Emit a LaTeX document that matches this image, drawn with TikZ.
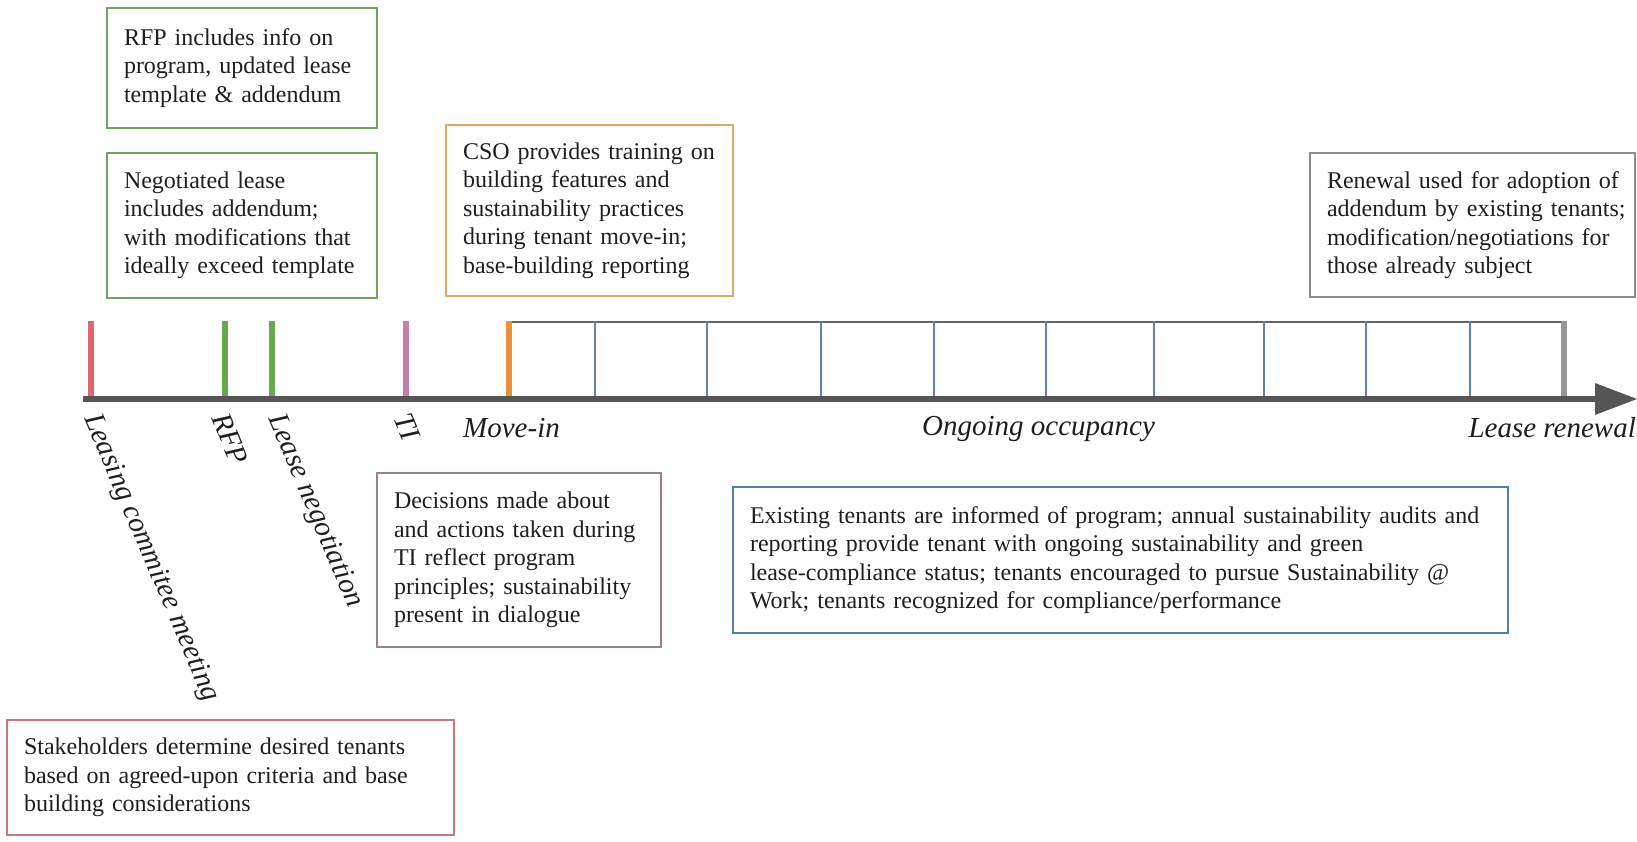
\documentclass[tikz,border=0pt]{standalone}
\usepackage{fontspec}
\setmainfont{Liberation Serif}
\definecolor{axisc}{RGB}{85,85,85}
\definecolor{redt}{RGB}{221,102,112}
\definecolor{redb}{RGB}{196,120,128}
\definecolor{greent}{RGB}{106,168,79}
\definecolor{greenb}{RGB}{112,162,96}
\definecolor{mauvet}{RGB}{196,128,168}
\definecolor{mauveb}{RGB}{160,124,144}
\definecolor{oranget}{RGB}{232,146,58}
\definecolor{orangeb}{RGB}{222,172,96}
\definecolor{grayt}{RGB}{150,150,150}
\definecolor{grayb}{RGB}{140,140,140}
\definecolor{bluet}{RGB}{92,132,172}
\definecolor{blueb}{RGB}{82,128,168}
\definecolor{linec}{RGB}{100,100,100}
\definecolor{txt}{RGB}{30,30,30}
\begin{document}
\begin{tikzpicture}[x=1pt,y=-1pt,
  box/.style={draw, line width=1.3pt, inner xsep=17pt, inner ysep=0pt, outer sep=0pt,
    anchor=north west, align=left, font=\fontsize{24}{28.5}\selectfont, text=txt},
  lab/.style={font=\fontsize{29}{32}\selectfont\itshape, inner sep=0pt, text=txt},
  bigtick/.style={line width=5.5pt},
  smalltick/.style={line width=1.2pt, draw=bluet},
]
\useasboundingbox (0,0) rectangle (1637,842);

% boxes
\node[box, draw=greenb, text width=236pt, minimum height=120pt] (rfpbox) at (107,8)
  {\mbox{RFP includes info on}\\\mbox{program, updated lease}\\\mbox{template \& addendum}};
\node[box, draw=greenb, text width=236pt, minimum height=145pt] (negbox) at (107,153)
  {\mbox{Negotiated lease}\\\mbox{includes addendum;}\\\mbox{with modifications that}\\\mbox{ideally exceed template}};
\node[box, draw=orangeb, text width=253pt, minimum height=171pt] (csobox) at (446,125)
  {\mbox{CSO provides training on}\\\mbox{building features and}\\\mbox{sustainability practices}\\\mbox{during tenant move-in;}\\\mbox{base-building reporting}};
\node[box, draw=grayb, text width=291pt, minimum height=144pt] (renbox) at (1310,153)
  {\mbox{Renewal used for adoption of}\\\mbox{addendum by existing tenants;}\\\mbox{modification/negotiations for}\\\mbox{those already subject}};
\node[box, draw=mauveb, text width=250pt, minimum height=174pt] (tibox) at (377,473)
  {\mbox{Decisions made about}\\\mbox{and actions taken during}\\\mbox{TI reflect program}\\\mbox{principles; sustainability}\\\mbox{present in dialogue}};
\node[box, draw=blueb, text width=741pt, minimum height=146pt] (exbox) at (733,487)
  {\mbox{Existing tenants are informed of program; annual sustainability audits and}\\\mbox{reporting provide tenant with ongoing sustainability and green}\\\mbox{lease-compliance status; tenants encouraged to pursue Sustainability @}\\\mbox{Work; tenants recognized for compliance/performance}};
\node[box, draw=redb, text width=413pt, minimum height=115pt] (stbox) at (7,720)
  {\mbox{Stakeholders determine desired tenants}\\\mbox{based on agreed-upon criteria and base}\\\mbox{building considerations}};

% occupancy frame line
\coordinate (occS) at (509,322);
\coordinate (occE) at (1564,322);
\draw[line width=1.5pt, draw=linec] (occS) -- (occE);

% small blue ticks
\foreach \x in {595,707,821,934,1046,1154,1264,1366,1470}
  \draw[smalltick] (\x,321) -- (\x,399);

% big ticks
\draw[bigtick, draw=redt] (91,321) -- (91,399);
\draw[bigtick, draw=greent] (225,321) -- (225,399);
\draw[bigtick, draw=greent] (272,321) -- (272,399);
\draw[bigtick, draw=mauvet] (406,321) -- (406,399);
\draw[bigtick, draw=oranget] (509,321) -- (509,399);
\draw[bigtick, draw=grayt] (1564,321) -- (1564,399);

% axis
\coordinate (axS) at (83,399);
\coordinate (axM) at (1596,399);
\coordinate (axE) at (1637,399);
\draw[line width=6pt, draw=axisc] (axS) -- (axM);
\fill[axisc] (1595,383) -- (axE) -- (1595,415) -- cycle;

% labels
\node[lab, rotate=-67, anchor=base west] (llcm) at (84,418) {Leasing commitee meeting};
\node[lab, rotate=-67, anchor=base west] (lrfp) at (211,418) {RFP};
\node[lab, rotate=-67, anchor=base west] (lneg) at (268,418) {Lease negotiation};
\node[lab, rotate=-67, anchor=base west] (lti) at (393,418) {TI};
\node[lab, anchor=base west] (lmove) at (463,437) {Move-in};
\node[lab, anchor=base west] (locc) at (922,435) {Ongoing occupancy};
\node[lab, anchor=base east] (lren) at (1636,437) {Lease renewal};
\end{tikzpicture}
\end{document}
